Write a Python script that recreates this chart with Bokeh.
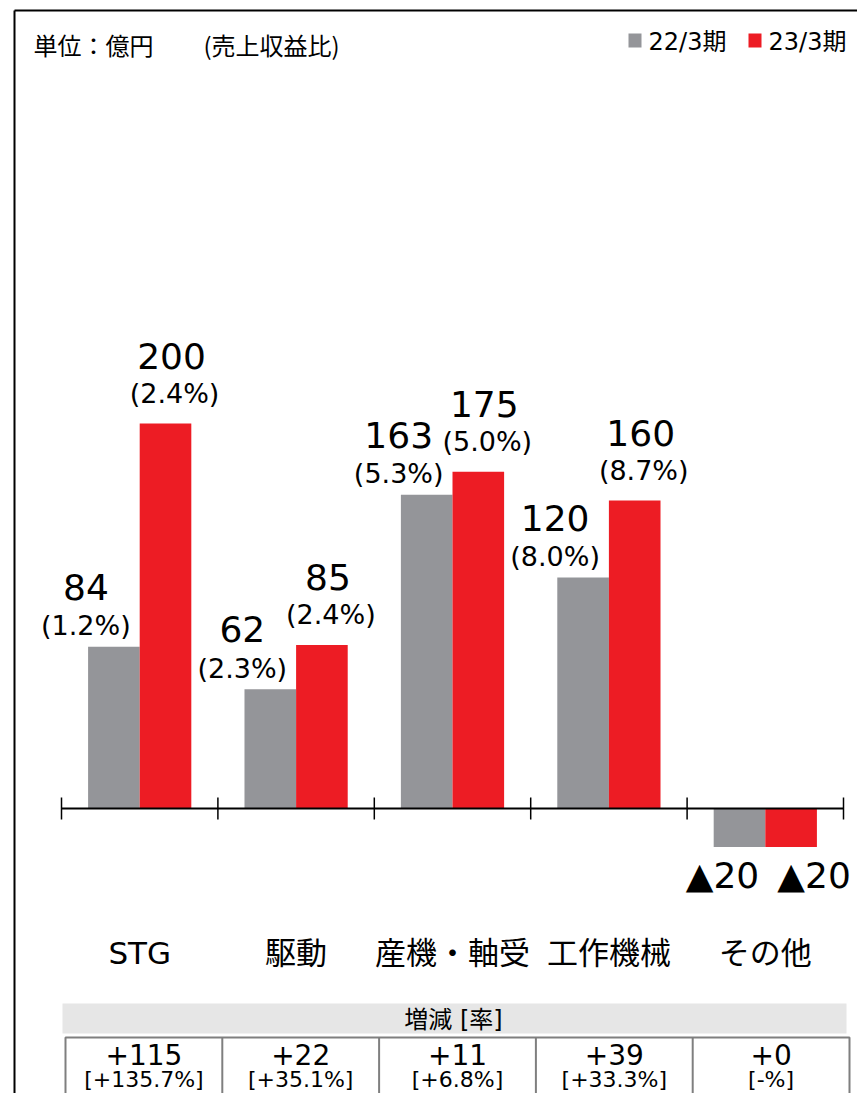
from bokeh.plotting import figure
from bokeh.models import Range1d, ColumnDataSource
from bokeh.core.properties import value
from bokeh.embed import file_html
from bokeh.resources import INLINE

# ---------------- data ----------------
categories = ["STG", "駆動", "産機・軸受", "工作機械", "その他"]
series_names = ["22/3期", "23/3期"]
profit_fy22 = [84, 62, 163, 120, -20]
profit_fy23 = [200, 85, 175, 160, -20]
ratio_fy22 = [1.2, 2.3, 5.3, 8.0, None]
ratio_fy23 = [2.4, 2.4, 5.0, 8.7, None]
change = [115, 22, 11, 39, 0]
change_rate = [135.7, 35.1, 6.8, 33.3, None]
unit_label = "単位：億円"
ratio_note = "(売上収益比)"
table_title = "増減 [率]"

# ---------------- style / layout ----------------
GRAY = "#949599"
RED = "#ED1C24"
COLORS = [GRAY, RED]
TXT = "#000000"
NUM_FONT = value("DejaVu Sans")
CJK_FONT = value("Noto Sans CJK JP")
MIX_FONT = value("DejaVu Sans, Noto Sans CJK JP")

W, H = 857, 1093
AX0, STEP = 61.0, 156.4       # x of first category boundary, category width
BASE_Y, PX_PER = 808.0, 1.925 # y of zero line, pixels per unit
BAR_W = 0.33

p = figure(width=W, height=H,
           x_range=Range1d(0, W), y_range=Range1d(H, 0),
           output_backend="svg", toolbar_location=None, min_border=0,
           x_axis_location=None, y_axis_location=None)
p.grid.visible = False
p.outline_line_color = None
p.background_fill_color = "white"
p.extra_x_ranges = {"cat": Range1d((0 - AX0) / STEP, (W - AX0) / STEP)}
p.extra_y_ranges = {"val": Range1d((BASE_Y - H) / PX_PER, BASE_Y / PX_PER)}

# outer frame (left and top edges visible)
p.segment(x0=[14, 14], y0=[1120, 10], x1=[14, 900], y1=[10, 10],
          line_color="black", line_width=2)

# header texts
p.text(x=[33], y=[44], text=[unit_label], text_font=CJK_FONT, text_font_size="24px",
       text_color=TXT, text_baseline="middle", text_align="left")
p.text(x=[203], y=[44], text=[ratio_note], text_font=CJK_FONT, text_font_size="24px",
       text_color=TXT, text_baseline="middle", text_align="left")

# legend (manual)
leg_sq_x = [628, 748]
for name, color, lx in zip(series_names, COLORS, leg_sq_x):
    p.quad(left=[lx], right=[lx + 13], top=[33], bottom=[47], fill_color=color, line_color=None)
    p.text(x=[lx + 20], y=[41], text=[name], text_font=MIX_FONT, text_font_size="24px",
           text_color=TXT, text_baseline="middle", text_align="left")

# bars + labels
series_vals = [profit_fy22, profit_fy23]
series_ratio = [ratio_fy22, ratio_fy23]
# label offsets (px) per series: (num_x, num_y, pct_x, pct_y, neg_x, neg_y)
offs = [(-28, -60, -28, -21, -17, 28), (6, -68, 9, -30, 23, 28)]
for s, (vals, ratios, color) in enumerate(zip(series_vals, series_ratio, COLORS)):
    xs = [i + 0.5 + (s - 0.5) * BAR_W for i in range(len(categories))]
    nx, ny, px_, py_, gx, gy = offs[s]
    num_text = [str(v) if v >= 0 else "▲" + str(abs(v)) for v in vals]
    pct_text = ["(%.1f%%)" % r if r is not None else "" for r in ratios]
    src = ColumnDataSource(dict(
        x=xs, top=vals, num=num_text, pct=pct_text,
        nxo=[nx if v >= 0 else gx for v in vals],
        nyo=[ny if v >= 0 else gy for v in vals],
        pxo=[px_] * len(vals), pyo=[py_] * len(vals)))
    p.vbar(x="x", top="top", bottom=0, width=BAR_W, source=src, fill_color=color,
           line_color=None, x_range_name="cat", y_range_name="val")
    p.text(x="x", y="top", text="num", x_offset="nxo", y_offset="nyo", source=src,
           text_font=NUM_FONT, text_font_size="36px", text_color=TXT,
           text_align="center", text_baseline="middle",
           x_range_name="cat", y_range_name="val")
    p.text(x="x", y="top", text="pct", x_offset="pxo", y_offset="pyo", source=src,
           text_font=NUM_FONT, text_font_size="27px", text_color=TXT,
           text_align="center", text_baseline="middle",
           x_range_name="cat", y_range_name="val")

# zero baseline with category separators
n = len(categories)
p.segment(x0=[0], x1=[n], y0=[0], y1=[0], line_color="black", line_width=2,
          x_range_name="cat", y_range_name="val")
p.segment(x0=list(range(n + 1)), x1=list(range(n + 1)), y0=[797] * (n + 1), y1=[819] * (n + 1),
          line_color="black", line_width=1.5, x_range_name="cat")

# category labels
p.text(x=[i + 0.5 for i in range(n)], y=[952] * n, text=categories,
       text_font=MIX_FONT, text_font_size="31px", text_color=TXT,
       text_align="center", text_baseline="middle", x_range_name="cat")

# change table
p.quad(left=[62], right=[846], top=[1003], bottom=[1033], fill_color="#e6e6e6", line_color=None)
p.text(x=[453], y=[1019], text=[table_title], text_font=MIX_FONT, text_font_size="24px",
       text_color=TXT, text_align="center", text_baseline="middle")
T0, TSTEP = 65.0, 156.8
p.quad(left=[T0], right=[T0 + TSTEP * n], top=[1037], bottom=[1130], fill_color=None,
       line_color="#7f7f7f", line_width=2)
p.segment(x0=[T0 + TSTEP * k for k in range(1, n)], x1=[T0 + TSTEP * k for k in range(1, n)],
          y0=[1037] * (n - 1), y1=[1130] * (n - 1), line_color="#7f7f7f", line_width=2)
cx = [T0 + TSTEP * (i + 0.5) for i in range(n)]
p.text(x=cx, y=[1054] * n, text=["+%d" % c for c in change], text_font=NUM_FONT,
       text_font_size="28px", text_color=TXT, text_align="center", text_baseline="middle")
p.text(x=cx, y=[1079] * n,
       text=["[+%.1f%%]" % r if r is not None else "[-%]" for r in change_rate],
       text_font=NUM_FONT, text_font_size="22px", text_color=TXT,
       text_align="center", text_baseline="middle")

open("out.html", "w").write(file_html(p, INLINE))
